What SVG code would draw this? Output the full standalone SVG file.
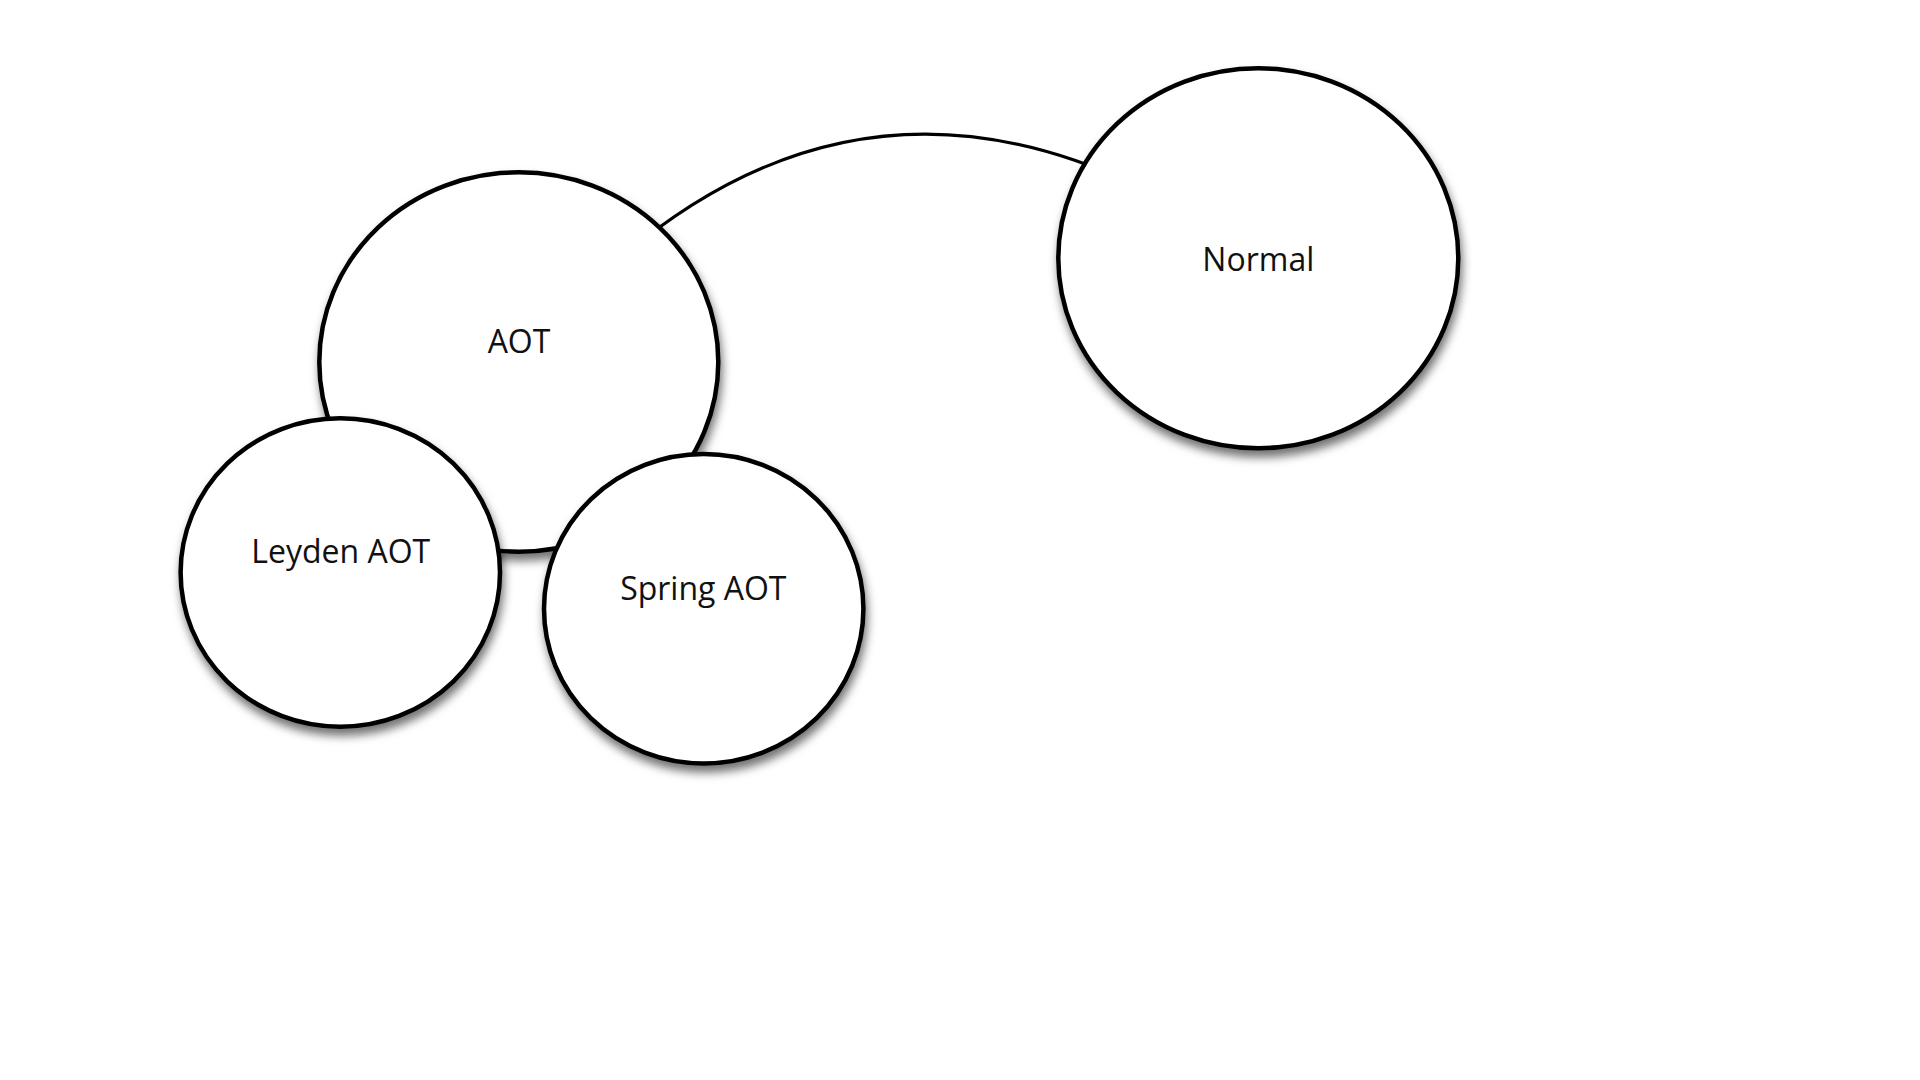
<svg xmlns="http://www.w3.org/2000/svg" width="1920" height="1080" viewBox="0 0 1920 1080">
  <style>
    .node ellipse { fill: #ffffff; stroke: #000000; stroke-width: 4.5; filter: url(#shadow); }
    .node text { font-family: "Open Sans", "Liberation Sans", sans-serif; font-size: 32px; fill: #111111; text-anchor: middle; }
    .edge { fill: none; stroke: #000000; stroke-width: 3; }
  </style>
  <defs>
    <filter id="shadow" x="-20%" y="-20%" width="140%" height="150%">
      <feDropShadow dx="2" dy="7" stdDeviation="5" flood-color="#000000" flood-opacity="0.55"/>
    </filter>
  </defs>
  <rect x="0" y="0" width="1920" height="1080" fill="#ffffff"/>
  <g id="connectors">
    <path class="edge" d="M519,362 Q849,-34 1258,258"/>
  </g>
  <g id="node-normal" class="node">
    <ellipse cx="1258.3" cy="258.3" rx="200" ry="190"/>
    <text x="1258.3" y="270.7">Normal</text>
  </g>
  <g id="node-aot" class="node">
    <ellipse cx="518.8" cy="362" rx="199.5" ry="189.7"/>
    <text x="519" y="353.3">AOT</text>
  </g>
  <g id="node-leyden-aot" class="node">
    <ellipse cx="340.3" cy="572.5" rx="159.7" ry="154.2"/>
    <text x="340.7" y="563.3">Leyden AOT</text>
  </g>
  <g id="node-spring-aot" class="node">
    <ellipse cx="703.7" cy="608.7" rx="159.7" ry="154.7"/>
    <text x="703.3" y="600">Spring AOT</text>
  </g>
</svg>
